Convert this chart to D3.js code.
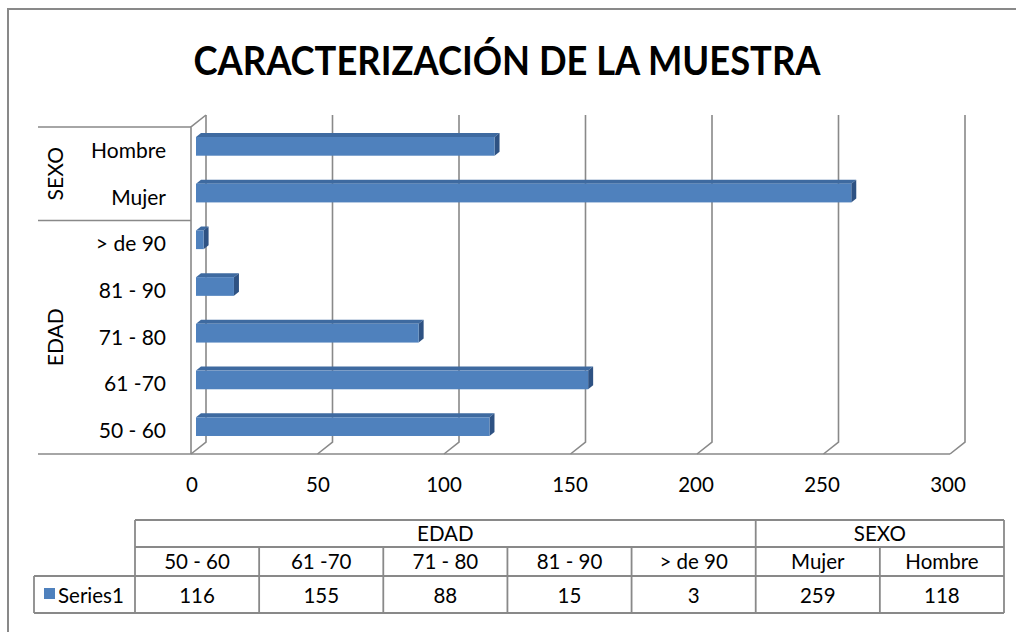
<!DOCTYPE html>
<html><head><meta charset="utf-8">
<script src="https://cdn.jsdelivr.net/npm/d3@7/dist/d3.min.js"></script>
<style>
html,body{margin:0;padding:0;background:#fff;}
svg{display:block;}
text{font-family:Lato,"Open Sans","DejaVu Sans",sans-serif;fill:#000;}
</style></head>
<body>
<svg id="chart" width="1016" height="632"></svg>
<script>
// ---- data ----
const title = "CARACTERIZACIÓN DE LA MUESTRA";
const categories = ["50 - 60", "61 -70", "71 - 80", "81 - 90", "> de 90", "Mujer", "Hombre"];
const groups = ["EDAD", "EDAD", "EDAD", "EDAD", "EDAD", "SEXO", "SEXO"];
const groupNames = ["EDAD", "SEXO"];
const values = [116, 155, 88, 15, 3, 259, 118];
const xTicks = [0, 50, 100, 150, 200, 250, 300];
const seriesName = "Series1";

// ---- layout ----
const svg = d3.select("#chart");
const gray = "#898989";
const x = d3.scaleLinear().domain([0, 300]).range([191, 950]);
const y = d3.scaleBand().domain(categories).range([454, 127]).paddingInner(0.6).paddingOuter(0.3);
const DX = 15, DY = -12; // depth offsets (full depth)
const proj = (v, yy, d) => [x(v) + DX * d, yy + DY * d];

// outer border
svg.append("path").attr("d", "M8,640 L8,9 L1020,9").attr("fill", "none")
  .attr("stroke", gray).attr("stroke-width", 2);

// title
svg.append("text").attr("x", 507).attr("y", 75).attr("text-anchor", "middle")
  .attr("font-size", 40).attr("font-weight", "bold")
  .attr("textLength", 627).attr("lengthAdjust", "spacingAndGlyphs").text(title);

const yTop = 127, yBot = 454;
const g = svg.append("g");

// gridlines on back wall + floor slants
xTicks.forEach(t => {
  const b0 = proj(t, yBot, 1), b1 = proj(t, yTop, 1), f0 = proj(t, yBot, 0);
  g.append("path").attr("d", `M${f0[0]},${f0[1]} L${b0[0]},${b0[1]} L${b1[0]},${b1[1]}`)
    .attr("fill", "none").attr("stroke", gray).attr("stroke-width", 1.6);
});
// left wall
{
  const a = proj(0, yBot, 0), b = proj(0, yTop, 0), c = proj(0, yTop, 1);
  g.append("path").attr("d", `M${a[0]},${a[1]} L${b[0]},${b[1]} L${c[0]},${c[1]}`)
    .attr("fill", "none").attr("stroke", gray).attr("stroke-width", 1.6);
}
// floor front line
g.append("line").attr("x1", 38).attr("x2", x(300)).attr("y1", yBot).attr("y2", yBot)
  .attr("stroke", gray).attr("stroke-width", 1.6);
// category separators
const step = y.step();
const sepY = [yTop, y("Mujer") + y.bandwidth() + (step - y.bandwidth()) / 2];
sepY.forEach(sy => g.append("line").attr("x1", 38).attr("x2", x(0)).attr("y1", sy).attr("y2", sy)
  .attr("stroke", gray).attr("stroke-width", 1.6));

// bars (3D)
const d0 = 1 / 3, d1 = 2 / 3;
const bars = g.append("g");
categories.forEach((c, i) => {
  const v = values[i];
  const top = y(c), bot = y(c) + y.bandwidth();
  const pts = (arr) => arr.map(p => p.join(",")).join(" ");
  bars.append("polygon").attr("points", pts([proj(0, top, d0), proj(v, top, d0), proj(v, top, d1), proj(0, top, d1)]))
    .attr("fill", "#3E6AA0");
  bars.append("polygon").attr("points", pts([proj(v, top, d0), proj(v, top, d1), proj(v, bot, d1), proj(v, bot, d0)]))
    .attr("fill", "#2E5283");
  const f0 = proj(0, top, d0), f1 = proj(v, bot, d0);
  bars.append("rect").attr("x", f0[0]).attr("y", f0[1]).attr("width", f1[0] - f0[0]).attr("height", f1[1] - f0[1])
    .attr("fill", "#4F81BD");
});

// category labels
categories.forEach(c => {
  svg.append("text").attr("x", 166).attr("y", y(c) + y.bandwidth() / 2 + 7.5)
    .attr("text-anchor", "end").attr("font-size", 21).text(c);
});
// group labels
groupNames.forEach(gn => {
  const cy = gn === "SEXO" ? (yTop + sepY[1]) / 2 : (sepY[1] + yBot) / 2;
  svg.append("text").attr("transform", `translate(63,${cy}) rotate(-90)`)
    .attr("text-anchor", "middle").attr("font-size", 21).text(gn);
});

// x tick labels
const xf = d3.scaleLinear().domain([0, 300]).range([192, 948]);
xTicks.forEach(t => {
  svg.append("text").attr("x", xf(t)).attr("y", 492).attr("text-anchor", "middle")
    .attr("font-size", 20.5).text(t);
});

// ---- data table ----
const colX = d3.scaleBand().domain(categories).range([135, 1004]);
const rowY = [520, 547, 576, 613];
const tg = svg.append("g").attr("stroke", gray).attr("stroke-width", 1.8).attr("fill", "none");
tg.append("line").attr("x1", 135).attr("x2", 1004).attr("y1", rowY[0]).attr("y2", rowY[0]);
tg.append("line").attr("x1", 135).attr("x2", 1004).attr("y1", rowY[1]).attr("y2", rowY[1]);
tg.append("line").attr("x1", 34).attr("x2", 1004).attr("y1", rowY[2]).attr("y2", rowY[2]);
tg.append("line").attr("x1", 34).attr("x2", 1004).attr("y1", rowY[3]).attr("y2", rowY[3]);
tg.append("line").attr("x1", 34).attr("x2", 34).attr("y1", rowY[2]).attr("y2", rowY[3]);
tg.append("line").attr("x1", 135).attr("x2", 135).attr("y1", rowY[0]).attr("y2", rowY[3]);
tg.append("line").attr("x1", 1004).attr("x2", 1004).attr("y1", rowY[0]).attr("y2", rowY[3]);
categories.forEach((c, i) => {
  if (i === 0) return;
  const xx = colX(c);
  const full = groups[i] !== groups[i - 1];
  tg.append("line").attr("x1", xx).attr("x2", xx).attr("y1", full ? rowY[0] : rowY[1]).attr("y2", rowY[3]);
});
groupNames.forEach(gn => {
  const idx = categories.map((c, i) => i).filter(i => groups[i] === gn);
  const x0 = colX(categories[idx[0]]), x1 = colX(categories[idx[idx.length - 1]]) + colX.bandwidth();
  svg.append("text").attr("x", (x0 + x1) / 2).attr("y", 541).attr("text-anchor", "middle")
    .attr("font-size", 20.5).text(gn);
});
categories.forEach((c, i) => {
  const cx = colX(c) + colX.bandwidth() / 2;
  svg.append("text").attr("x", cx).attr("y", 569).attr("text-anchor", "middle").attr("font-size", 20.5).text(c);
  svg.append("text").attr("x", cx).attr("y", 603).attr("text-anchor", "middle").attr("font-size", 20.5).text(values[i]);
});
svg.append("rect").attr("x", 44).attr("y", 588).attr("width", 11).attr("height", 11).attr("fill", "#4F81BD");
svg.append("text").attr("x", 58).attr("y", 603).attr("font-size", 20.5).text(seriesName);
</script>
</body></html>
